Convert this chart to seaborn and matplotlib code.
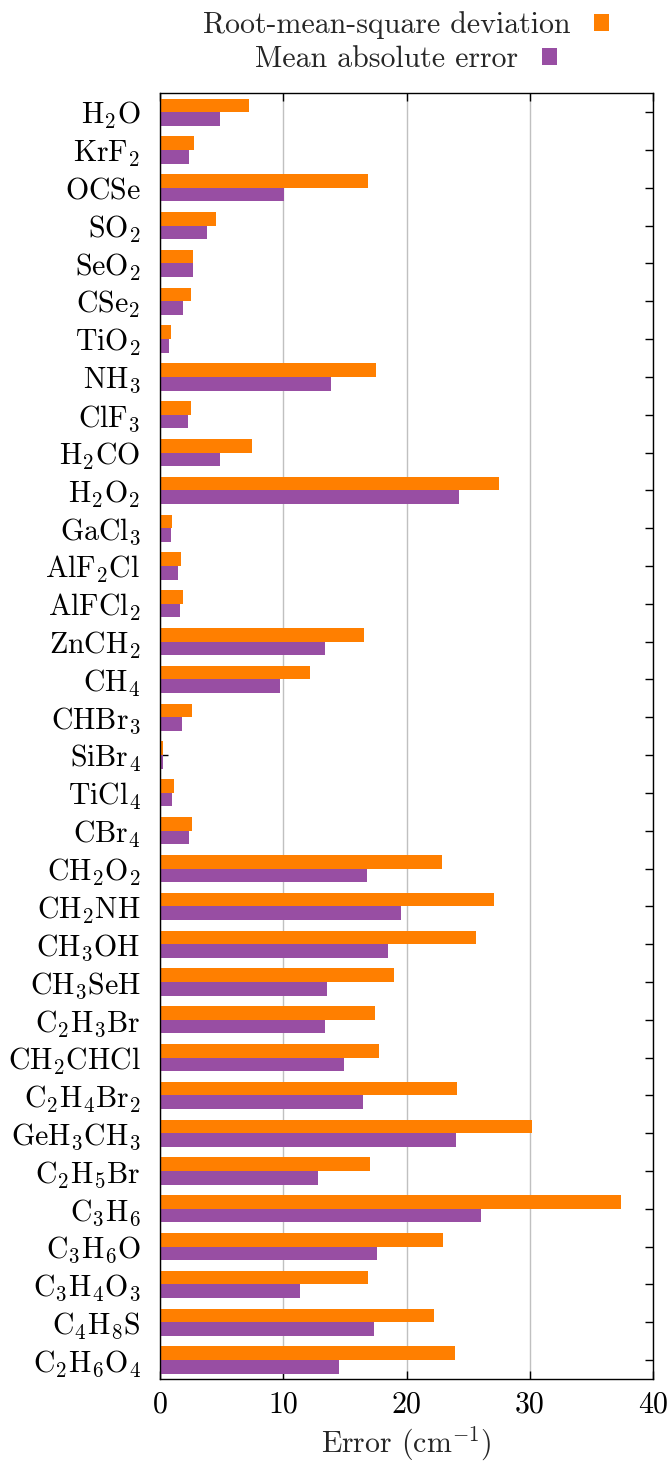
import matplotlib
matplotlib.use("Agg")
import matplotlib.pyplot as plt
import seaborn as sns
import pandas as pd

molecules = ["H2O", "KrF2", "OCSe", "SO2", "SeO2", "CSe2", "TiO2", "NH3", "ClF3", "H2CO",
             "H2O2", "GaCl3", "AlF2Cl", "AlFCl2", "ZnCH2", "CH4", "CHBr3", "SiBr4", "TiCl4", "CBr4",
             "CH2O2", "CH2NH", "CH3OH", "CH3SeH", "C2H3Br", "CH2CHCl", "C2H4Br2", "GeH3CH3",
             "C2H5Br", "C3H6", "C3H6O", "C3H4O3", "C4H8S", "C2H6O4"]
labels = [r"$\mathrm{H_2O}$", r"$\mathrm{KrF_2}$", r"$\mathrm{OCSe}$", r"$\mathrm{SO_2}$",
          r"$\mathrm{SeO_2}$", r"$\mathrm{CSe_2}$", r"$\mathrm{TiO_2}$", r"$\mathrm{NH_3}$",
          r"$\mathrm{ClF_3}$", r"$\mathrm{H_2CO}$", r"$\mathrm{H_2O_2}$", r"$\mathrm{GaCl_3}$",
          r"$\mathrm{AlF_2Cl}$", r"$\mathrm{AlFCl_2}$", r"$\mathrm{ZnCH_2}$", r"$\mathrm{CH_4}$",
          r"$\mathrm{CHBr_3}$", r"$\mathrm{SiBr_4}$", r"$\mathrm{TiCl_4}$", r"$\mathrm{CBr_4}$",
          r"$\mathrm{CH_2O_2}$", r"$\mathrm{CH_2NH}$", r"$\mathrm{CH_3OH}$", r"$\mathrm{CH_3SeH}$",
          r"$\mathrm{C_2H_3Br}$", r"$\mathrm{CH_2CHCl}$", r"$\mathrm{C_2H_4Br_2}$",
          r"$\mathrm{GeH_3CH_3}$", r"$\mathrm{C_2H_5Br}$", r"$\mathrm{C_3H_6}$",
          r"$\mathrm{C_3H_6O}$", r"$\mathrm{C_3H_4O_3}$", r"$\mathrm{C_4H_8S}$",
          r"$\mathrm{C_2H_6O_4}$"]
rmsd = [7.2, 2.75, 16.87, 4.54, 2.68, 2.5, 0.89, 17.5, 2.51, 7.46,
        27.49, 0.97, 1.7, 1.86, 16.55, 12.17, 2.6, 0.27, 1.14, 2.6,
        22.87, 27.09, 25.63, 18.98, 17.44, 17.76, 24.09, 30.17,
        17.03, 37.39, 22.98, 16.87, 22.22, 23.93]
mae = [4.9, 2.35, 10.08, 3.84, 2.66, 1.86, 0.73, 13.87, 2.3, 4.87,
       24.25, 0.89, 1.49, 1.62, 13.38, 9.73, 1.78, 0.25, 0.95, 2.38,
       16.79, 19.55, 18.49, 13.54, 13.38, 14.92, 16.49, 24.0,
       12.84, 26.03, 17.6, 11.35, 17.38, 14.52]
series_names = ["Root-mean-square deviation", "Mean absolute error"]
colors = ["#ff7f00", "#984ea3"]
xticks = [0, 10, 20, 30, 40]

df = pd.DataFrame({
    "label": labels * 2,
    "value": rmsd + mae,
    "series": [series_names[0]] * len(labels) + [series_names[1]] * len(labels),
})

sns.set_theme(style="white")
plt.rcParams["font.family"] = ["serif"]
plt.rcParams["font.serif"] = ["cmr10", "DejaVu Serif"]
plt.rcParams["mathtext.fontset"] = "cm"
plt.rcParams["axes.unicode_minus"] = False
plt.rcParams["axes.formatter.use_mathtext"] = True

FS = 21.5
fig = plt.figure(figsize=(6.67, 14.61), dpi=100)
ax = fig.add_axes([160 / 667, 82 / 1461, 493 / 667, (1379 - 93.3) / 1461])

sns.barplot(data=df, x="value", y="label", hue="series", orient="h",
            palette=colors, width=0.72, saturation=1, ax=ax, order=labels,
            hue_order=series_names, linewidth=0)

ax.set_xlim(0, 40)
ax.set_ylim(len(labels) - 0.5, -0.5)
ax.set_xticks(xticks)
ax.set_xticklabels([str(t) for t in xticks], fontsize=FS)
ax.set_yticks(range(len(labels)))
ax.set_yticklabels(labels, fontsize=FS)
ax.set_ylabel("")
ax.set_xlabel(r"Error (cm$^{-1}$)", fontsize=FS, labelpad=4)
ax.xaxis.grid(True, color="#c0c0c0", linewidth=1.0)
ax.set_axisbelow(True)
for s in ax.spines.values():
    s.set_visible(True)
    s.set_color("black")
    s.set_linewidth(1.0)
ax.tick_params(axis="both", direction="in", length=6, width=1.0, colors="black",
               top=True, right=True, bottom=True, left=True)
ax.tick_params(axis="y", pad=14)
ax.tick_params(axis="x", pad=9)

# Legend: each entry centred over the plot, text first then the colour square
old = ax.get_legend()
handles = list(old.legend_handles)
texts = [t.get_text() for t in old.get_texts()]
old.remove()
cx = 406 / 667
for i, (h, t) in enumerate(zip(handles, texts)):
    fig.legend([h], [t], loc="upper center",
               bbox_to_anchor=(cx, 1 - (11 + 35 * i) / 1461),
               bbox_transform=fig.transFigure, frameon=False, markerfirst=False,
               fontsize=FS, handlelength=0.5, handleheight=0.5,
               handletextpad=0.8, borderpad=0, borderaxespad=0)

fig.savefig("out.png", dpi=100)
